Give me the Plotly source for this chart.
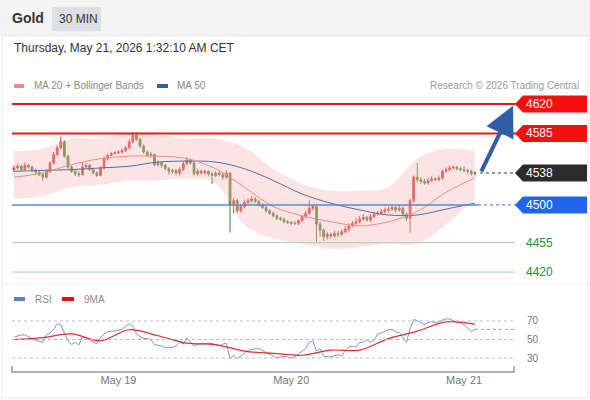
import pandas as pd
import plotly.graph_objects as go

W, H = 590, 400
FONT = "Liberation Sans, Arial, sans-serif"
TEXT = "#333333"
MUTED = "#8a8a8a"
UP = "#d3302a"
DOWN = "#3f7b2e"

# ── data ───────────────────────────────────────────────────────────────────
first_bar = pd.Timestamp("2026-05-18 09:30")
first_open = 4542

closes = [
    4544, 4546, 4542, 4547, 4545, 4541, 4539, 4536, 4533, 4540,
    4550, 4560, 4568, 4575, 4558, 4545, 4540, 4537, 4536, 4545,
    4547, 4542, 4538, 4535, 4544, 4555, 4559, 4561, 4562, 4563,
    4565, 4568, 4575, 4583, 4578, 4570, 4563, 4559, 4560, 4548,
    4550, 4547, 4543, 4540, 4541, 4538, 4542, 4549, 4553, 4550,
    4537, 4540, 4538, 4540, 4537, 4535, 4538, 4536, 4533, 4538,
    4500, 4505, 4493, 4498, 4503, 4505, 4507, 4504, 4500, 4497,
    4493, 4490, 4487, 4484, 4483, 4480, 4479, 4478, 4478, 4481,
    4486, 4490, 4496, 4498, 4477, 4470, 4462, 4465, 4463, 4466,
    4465, 4468, 4471, 4475, 4478, 4480, 4483, 4485, 4482, 4486,
    4489, 4490, 4492, 4494, 4495, 4497, 4494, 4496, 4489, 4484,
    4505, 4533, 4530, 4528, 4526, 4529, 4531, 4530, 4532, 4540,
    4542, 4544, 4545, 4543, 4542, 4541, 4540, 4537, 4538,
]
highs = [
    4547, 4549, 4548, 4551, 4549, 4547, 4543, 4541, 4538, 4542,
    4552, 4563, 4571, 4581, 4577, 4560, 4547, 4542, 4540, 4551,
    4550, 4549, 4544, 4540, 4546, 4558, 4561, 4563, 4564, 4565,
    4567, 4570, 4578, 4587, 4586, 4580, 4572, 4565, 4563, 4561,
    4553, 4552, 4549, 4545, 4543, 4543, 4545, 4551, 4557, 4555,
    4551, 4543, 4542, 4542, 4541, 4539, 4540, 4540, 4538, 4541,
    4539, 4508, 4507, 4501, 4506, 4508, 4510, 4509, 4506, 4502,
    4499, 4495, 4492, 4489, 4486, 4485, 4482, 4481, 4481, 4483,
    4488, 4493, 4505, 4501, 4499, 4480, 4472, 4468, 4467, 4469,
    4469, 4471, 4475, 4478, 4481, 4484, 4487, 4489, 4487, 4489,
    4492, 4493, 4495, 4497, 4498, 4501, 4499, 4500, 4498, 4491,
    4507, 4535, 4550, 4533, 4531, 4532, 4534, 4533, 4535, 4542,
    4545, 4547, 4547, 4546, 4545, 4546, 4543, 4542, 4540,
]
lows = [
    4539, 4542, 4540, 4541, 4543, 4539, 4536, 4534, 4528, 4531,
    4538, 4548, 4558, 4566, 4556, 4543, 4538, 4534, 4533, 4535,
    4543, 4540, 4536, 4533, 4534, 4542, 4553, 4558, 4560, 4561,
    4561, 4563, 4566, 4573, 4576, 4568, 4561, 4557, 4556, 4546,
    4546, 4544, 4541, 4536, 4537, 4535, 4535, 4540, 4547, 4548,
    4535, 4535, 4536, 4536, 4534, 4525, 4533, 4534, 4530, 4531,
    4467, 4490, 4490, 4491, 4496, 4501, 4503, 4502, 4498, 4495,
    4491, 4488, 4485, 4482, 4481, 4478, 4477, 4476, 4476, 4476,
    4479, 4484, 4488, 4493, 4456, 4462, 4457, 4459, 4460, 4461,
    4462, 4463, 4466, 4468, 4473, 4476, 4478, 4481, 4480, 4480,
    4484, 4487, 4488, 4490, 4491, 4493, 4491, 4492, 4487, 4481,
    4467, 4503, 4527, 4525, 4524, 4524, 4527, 4528, 4528, 4530,
    4538, 4540, 4542, 4541, 4540, 4539, 4537, 4535, 4535,
]

# overlays, read every 8 bars
sample_step = 8
ma20 = [4533, 4538, 4548, 4555, 4558, 4558, 4555, 4543, 4521,
        4498, 4487, 4480, 4475, 4480, 4492, 4515, 4532]
ma50 = [4540, 4541, 4542, 4544, 4546, 4551, 4552, 4551, 4543,
        4529, 4513, 4502, 4494, 4488, 4488, 4495, 4502]
bb_upper = [4564, 4567, 4579, 4579, 4586, 4583, 4579, 4579, 4568,
            4543, 4525, 4517, 4517, 4521, 4555, 4567, 4564]
bb_lower = [4507, 4511, 4521, 4524, 4529, 4529, 4531, 4526, 4476,
            4460, 4454, 4448, 4450, 4454, 4454, 4477, 4507]

rsi = [
    52.5, 54, 55, 55, 53, 51, 49, 48, 47, 55,
    57, 61, 67, 66, 56, 48, 44.5, 47, 44, 53,
    52, 50, 47, 45.5, 52, 56, 58, 59, 59, 60,
    61, 64, 67, 64, 56, 53, 51, 51, 50, 44.5,
    44, 43, 41.5, 41, 41.5, 43, 47, 45, 52, 48,
    43, 45, 45.5, 46, 46, 45.5, 44, 43, 45, 46,
    29, 33, 29, 32.5, 35, 38.4, 39, 40, 40, 38,
    36, 33.6, 32, 30, 31, 31.8, 31, 30, 31.5, 34,
    37.5, 40, 47, 48.5, 37.5, 40, 32, 31.5, 31, 32.5,
    33.6, 32, 38, 42, 42.5, 41.6, 47, 47, 50, 47,
    49, 56, 57, 59, 60.5, 61, 58, 57.5, 52, 47,
    62, 71.5, 70.5, 68, 66, 68.5, 69, 68, 69, 71,
    72.5, 72, 70, 68.5, 68, 65, 62.7, 58.5, 61,
]
rsi_ma9 = [50, 52, 56, 48.5, 60.5, 54, 46, 44.5, 37.5,
           35, 33, 38.5, 38.5, 51, 59, 69, 66.5]

resistances = [4620, 4585]
pivot = 4500
supports = [4455, 4420]
rsi_levels = [70, 50, 30]
day_ticks = ["2026-05-19", "2026-05-20", "2026-05-21"]
day_labels = ["May 19", "May 20", "May 21"]


def bar_time(k: float) -> pd.Timestamp:
    return first_bar + pd.Timedelta(minutes=30 * k)


def px(x: float) -> float:
    return x / W


def py(y: float) -> float:
    return 1 - y / H


times = [bar_time(i) for i in range(len(closes))]
opens = [first_open] + closes[:-1]
sample_times = times[::sample_step]
last_close = closes[-1]
x_range = [bar_time(-0.56), bar_time(139.7)]
x_domain = [px(12), px(517)]

fig = go.Figure()

# ── Bollinger envelope + moving averages ───────────────────────────────────
fig.add_trace(go.Scatter(
    x=sample_times, y=bb_upper, mode="lines", line=dict(width=0, shape="spline"),
    hoverinfo="skip", showlegend=False,
))
fig.add_trace(go.Scatter(
    x=sample_times, y=bb_lower, mode="lines", line=dict(width=0, shape="spline"),
    fill="tonexty", fillcolor="rgba(250,190,190,0.42)",
    hoverinfo="skip", showlegend=False,
))
fig.add_trace(go.Scatter(
    x=sample_times, y=ma50, mode="lines",
    line=dict(color="#4d6ea6", width=1, shape="spline"), showlegend=False,
))
fig.add_trace(go.Scatter(
    x=sample_times, y=ma20, mode="lines",
    line=dict(color="#f08a8a", width=1, shape="spline"), showlegend=False,
))

fig.add_trace(go.Candlestick(
    x=times, open=opens, high=highs, low=lows, close=closes,
    increasing=dict(line=dict(color=UP, width=1), fillcolor=UP),
    decreasing=dict(line=dict(color=DOWN, width=1), fillcolor=DOWN),
    whiskerwidth=0, showlegend=False,
))

# ── RSI panel ──────────────────────────────────────────────────────────────
fig.add_trace(go.Scatter(
    x=times, y=rsi, mode="lines", xaxis="x2", yaxis="y2",
    line=dict(color="#7b95db", width=1), showlegend=False,
))
fig.add_trace(go.Scatter(
    x=sample_times, y=rsi_ma9, mode="lines", xaxis="x2", yaxis="y2",
    line=dict(color="#d93030", width=1.2, shape="spline"), showlegend=False,
))

shapes = [
    # header strip and card outline
    dict(type="rect", xref="paper", yref="paper", x0=0, x1=1, y0=py(36), y1=1,
         fillcolor="#f4f4f4", line=dict(width=0), layer="below"),
    dict(type="rect", xref="paper", yref="paper", x0=px(52), x1=px(101),
         y0=py(31), y1=py(7), fillcolor="#dcdfe3", line=dict(width=0)),
    dict(type="rect", xref="paper", yref="paper", x0=px(2), x1=px(588),
         y0=py(398), y1=py(36), line=dict(color="#e8e8e8", width=1)),
    dict(type="line", xref="paper", yref="paper", x0=px(2), x1=px(588),
         y0=py(284), y1=py(284), line=dict(color="#ececec", width=1)),
    # legend swatches
    dict(type="rect", xref="paper", yref="paper", x0=px(14), x1=px(24),
         y0=py(88), y1=py(84), fillcolor="#f08a8a", line=dict(width=0)),
    dict(type="rect", xref="paper", yref="paper", x0=px(157), x1=px(168),
         y0=py(88), y1=py(84), fillcolor="#3d5f97", line=dict(width=0)),
    dict(type="rect", xref="paper", yref="paper", x0=px(14), x1=px(25),
         y0=py(301), y1=py(297), fillcolor="#5b7fd6", line=dict(width=0)),
    dict(type="rect", xref="paper", yref="paper", x0=px(62), x1=px(74),
         y0=py(301), y1=py(297), fillcolor="#e01010", line=dict(width=0)),
    # bottom time axis line
    dict(type="path", xref="paper", yref="paper",
         path=f"M{px(12)},{py(366)} L{px(12)},{py(372)} L{px(514)},{py(372)} L{px(514)},{py(366)}",
         line=dict(color="#9a9a9a", width=1.5)),
]

annotations = [
    dict(text="<b>Gold</b>", x=px(10), y=py(18), font=dict(size=14, color=TEXT)),
    dict(text="30 MIN", x=px(57), y=py(19), font=dict(size=12, color=TEXT)),
    dict(text="Thursday, May 21, 2026 1:32:10 AM CET", x=px(12), y=py(48),
         font=dict(size=12, color=TEXT)),
    dict(text="MA 20 + Bollinger Bands", x=px(32), y=py(86),
         font=dict(size=10, color=MUTED)),
    dict(text="MA 50", x=px(175), y=py(86), font=dict(size=10, color=MUTED)),
    dict(text="Research © 2026 Trading Central", x=px(581), y=py(86),
         xanchor="right", font=dict(size=10, color="#9a9a9a")),
    dict(text="RSI", x=px(33), y=py(299), font=dict(size=10, color=MUTED)),
    dict(text="9MA", x=px(82), y=py(299), font=dict(size=10, color=MUTED)),
]
for a in annotations:
    a.setdefault("xref", "paper")
    a.setdefault("yref", "paper")
    a.setdefault("xanchor", "left")
    a.setdefault("yanchor", "middle")
    a["showarrow"] = False


def level_tag(level, color):
    shapes.append(dict(
        type="path", xref="paper", yref="y", xsizemode="pixel", ysizemode="pixel",
        xanchor=px(515), yanchor=level, path="M0,0 L8,8.5 L72,8.5 L72,-8.5 L8,-8.5 Z",
        fillcolor=color, line=dict(width=0),
    ))
    annotations.append(dict(
        text=str(level), x=px(524), y=level, xref="paper", yref="y",
        xanchor="left", yanchor="middle", showarrow=False,
        font=dict(size=12, color="white"),
    ))


# ── key levels ─────────────────────────────────────────────────────────────
for lvl in resistances:
    shapes.append(dict(type="line", xref="paper", yref="y", x0=px(12), x1=px(516),
                       y0=lvl, y1=lvl, line=dict(color="#e01b1b", width=2)))
    level_tag(lvl, "#f50f0f")

shapes.append(dict(type="line", xref="x", yref="y", x0=x_range[0], x1=bar_time(128.9),
                   y0=pivot, y1=pivot, line=dict(color="#5a88d6", width=1.5)))
shapes.append(dict(type="line", xref="x", yref="y", x0=bar_time(128.9), x1=x_range[1],
                   y0=pivot, y1=pivot, line=dict(color="#5a88d6", width=1.2, dash="dot")))
level_tag(pivot, "#1f66ea")

shapes.append(dict(type="line", xref="x", yref="y", x0=bar_time(129.4), x1=x_range[1],
                   y0=last_close, y1=last_close,
                   line=dict(color="#333333", width=1, dash="dot")))
level_tag(last_close, "#2b2b2b")

for lvl in supports:
    shapes.append(dict(type="line", xref="paper", yref="y", x0=px(12), x1=px(515),
                       y0=lvl, y1=lvl, line=dict(color="#a6cfa6", width=1)))
    annotations.append(dict(
        text=str(lvl), x=px(524), y=lvl, xref="paper", yref="y",
        xanchor="left", yanchor="middle", showarrow=False,
        font=dict(size=12, color="#2f8f2f"),
    ))

# projected move towards first resistance
annotations.append(dict(
    x=bar_time(138.6), y=resistances[0] - 2, ax=bar_time(129.6), ay=last_close,
    xref="x", yref="y", axref="x", ayref="y", text="", showarrow=True,
    arrowhead=2, arrowsize=1.5, arrowwidth=4, arrowcolor="#2d5ea6",
))

# ── RSI guides ─────────────────────────────────────────────────────────────
for lvl in rsi_levels:
    shapes.append(dict(type="line", xref="paper", yref="y2", x0=px(12), x1=px(515),
                       y0=lvl, y1=lvl, line=dict(color="#bdbdbd", width=1, dash="dot")))
    annotations.append(dict(
        text=str(lvl), x=px(525), y=lvl, xref="paper", yref="y2",
        xanchor="left", yanchor="middle", showarrow=False,
        font=dict(size=10, color="#777777"),
    ))
shapes.append(dict(type="line", xref="x2", yref="y2", x0=times[-1], x1=bar_time(139.2),
                   y0=rsi[-1], y1=rsi[-1], line=dict(color="#9a9a9a", width=1, dash="dot")))

fig.update_layout(
    width=W, height=H,
    margin=dict(l=0, r=0, t=0, b=0),
    paper_bgcolor="white", plot_bgcolor="rgba(0,0,0,0)",
    font=dict(family=FONT, color=TEXT),
    showlegend=False,
    xaxis=dict(type="date", domain=x_domain, range=x_range, visible=False,
               rangeslider=dict(visible=False), anchor="y"),
    yaxis=dict(domain=[py(283), py(94)], range=[4407, 4632], visible=False,
               anchor="x"),
    xaxis2=dict(type="date", domain=x_domain, range=x_range, anchor="y2",
                tickvals=day_ticks, ticktext=day_labels, ticks="",
                showgrid=False, zeroline=False, showline=False,
                tickfont=dict(size=11, color="#777777")),
    yaxis2=dict(domain=[py(372), py(308)], range=[14.9, 84], visible=False,
                anchor="x2"),
    shapes=shapes,
    annotations=annotations,
)

# the page's default body margin would push the 590x400 figure off-frame
fig.write_html("out.html", config={"displayModeBar": False},
               post_script="document.body.style.margin='0px';")
